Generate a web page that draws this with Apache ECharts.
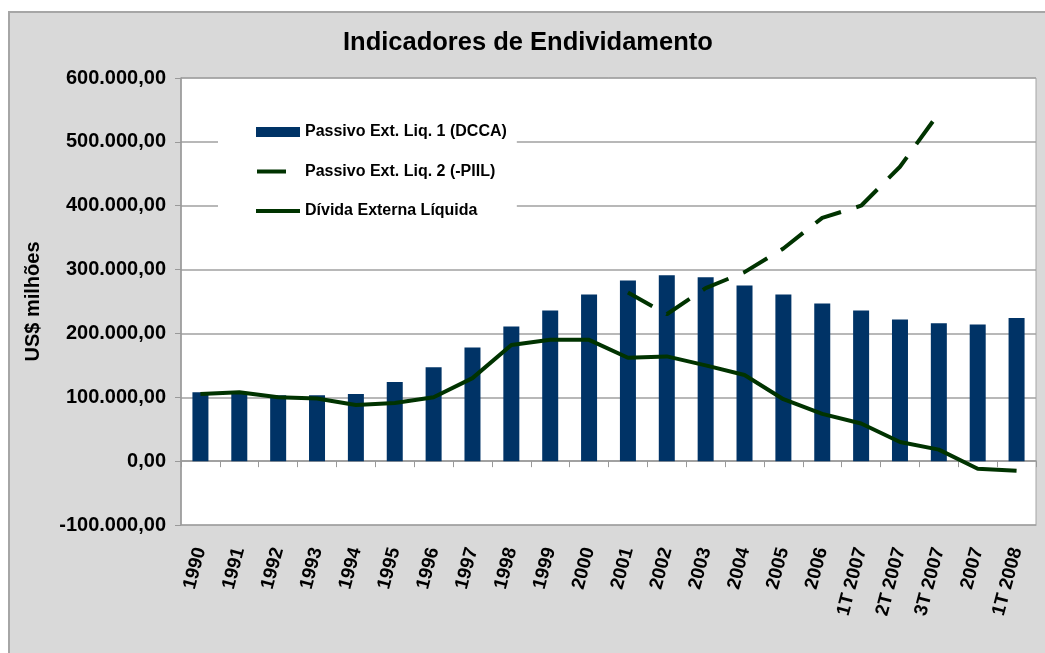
<!DOCTYPE html>
<html>
<head>
<meta charset="utf-8">
<title>Indicadores de Endividamento</title>
<script src="https://cdn.jsdelivr.net/npm/echarts@6/dist/echarts.min.js"></script>
<style>
  body { margin: 0; background: #fff; }
  #frame {
    position: absolute; left: 8px; top: 11px; width: 1045px; height: 653px;
    background: #d9d9d9; border-left: 2px solid #a6a6a6; border-top: 2px solid #a6a6a6;
  }
  #main { position: absolute; left: 0; top: 0; width: 1045px; height: 653px; }
</style>
</head>
<body>
<div id="frame"></div>
<div id="main"></div>
<script>
// categorias (anos / trimestres)
const categories = ['1990', '1991', '1992', '1993', '1994', '1995', '1996', '1997', '1998', '1999',
  '2000', '2001', '2002', '2003', '2004', '2005', '2006', '1T 2007', '2T 2007', '3T 2007', '2007', '1T 2008'];

// US$ milhões
const passivoLiq1 = [108000, 106000, 103000, 103000, 105000, 124000, 147000, 178000, 211000, 236000,
  261000, 283000, 291000, 288000, 275000, 261000, 247000, 236000, 222000, 216000, 214000, 224000];
const passivoLiq2 = [null, null, null, null, null, null, null, null, null, null,
  null, 264000, 230000, 271000, 296000, 333000, 381000, 400000, 461000, 545000, null, null];
const dividaLiquida = [105000, 108000, 100000, 98000, 88000, 91000, 100000, 130000, 182000, 190000,
  190000, 162000, 164000, 150000, 135000, 97000, 74000, 59000, 30000, 18000, -12000, -15000];

const seriesNames = ['Passivo Ext. Liq. 1 (DCCA)', 'Passivo Ext. Liq. 2 (-PIIL)', 'Dívida Externa Líquida'];

const FONT = '"Liberation Sans", Arial, sans-serif';

// ícones da legenda: caixa 44x10 fixada por dois pontos nos cantos
const ICON_DASH = 'path://M0,0L0.01,0ZM44,10L43.99,10ZM1,3H30V7H1Z';
const ICON_LINE = 'path://M0,0L0.01,0ZM44,10L43.99,10ZM0,3H44V7H0Z';

function formatBR(v) {
  const neg = v < 0;
  const s = Math.abs(v).toFixed(0).replace(/\B(?=(\d{3})+(?!\d))/g, '.');
  return (neg ? '-' : '') + s + ',00';
}

const myChart = echarts.init(document.getElementById('main'));

const option = {
  animation: false,
  backgroundColor: 'transparent',
  textStyle: { fontFamily: FONT },
  title: {
    text: 'Indicadores de Endividamento',
    left: 338,
    top: 25,
    textStyle: { fontFamily: FONT, fontSize: 25.5, fontWeight: 'bold', color: '#000' }
  },
  legend: {
    orient: 'vertical',
    left: 218,
    top: 106,
    padding: [18, 10, 16, 38],
    backgroundColor: '#fff',
    itemWidth: 44,
    itemHeight: 10,
    itemGap: 23.5,
    selectedMode: false,
    textStyle: { fontFamily: FONT, fontSize: 16, fontWeight: 'bold', color: '#000' },
    data: [
      { name: seriesNames[0], icon: 'rect' },
      { name: seriesNames[1], icon: ICON_DASH },
      { name: seriesNames[2], icon: ICON_LINE }
    ]
  },
  grid: {
    left: 181,
    right: 9,
    top: 78,
    bottom: 128,
    show: true,
    backgroundColor: '#fff',
    borderColor: '#a6a6a6',
    borderWidth: 1
  },
  xAxis: [
    {
      type: 'category',
      data: categories,
      axisLine: { onZero: true, lineStyle: { color: '#999', width: 1.5 } },
      axisTick: { show: true, interval: 0, length: 6, lineStyle: { color: '#999' } },
      axisLabel: { show: false }
    },
    {
      type: 'category',
      data: categories,
      position: 'bottom',
      axisLine: { show: true, onZero: false, lineStyle: { color: '#a6a6a6' } },
      axisTick: { show: false },
      axisLabel: {
        interval: 0,
        rotate: 75,
        margin: 23,
        fontFamily: FONT,
        fontSize: 19,
        fontWeight: 'bold',
        color: '#000'
      }
    }
  ],
  yAxis: {
    type: 'value',
    min: -100000,
    max: 600000,
    interval: 100000,
    name: 'US$ milhões',
    nameLocation: 'middle',
    nameRotate: 90,
    nameGap: 138,
    nameTextStyle: { fontFamily: FONT, fontSize: 20, fontWeight: 'bold', color: '#000' },
    axisLine: { show: true, lineStyle: { color: '#999', width: 1.5 } },
    axisTick: { show: true, length: 6, lineStyle: { color: '#999' } },
    axisLabel: {
      formatter: formatBR,
      margin: 15,
      fontFamily: FONT,
      fontSize: 20,
      fontWeight: 'bold',
      color: '#000'
    },
    splitLine: { lineStyle: { color: '#a0a0a0', width: 1.5 } }
  },
  series: [
    {
      name: seriesNames[0],
      type: 'bar',
      data: passivoLiq1,
      barWidth: 16,
      itemStyle: { color: '#003366' }
    },
    {
      name: seriesNames[1],
      type: 'line',
      data: passivoLiq2,
      symbol: 'none',
      lineStyle: { color: '#003300', width: 4, type: [28, 16], cap: 'butt' },
      itemStyle: { color: '#003300' }
    },
    {
      name: seriesNames[2],
      type: 'line',
      data: dividaLiquida,
      symbol: 'none',
      lineStyle: { color: '#003300', width: 4 },
      itemStyle: { color: '#003300' }
    }
  ]
};

myChart.setOption(option);
</script>
</body>
</html>
